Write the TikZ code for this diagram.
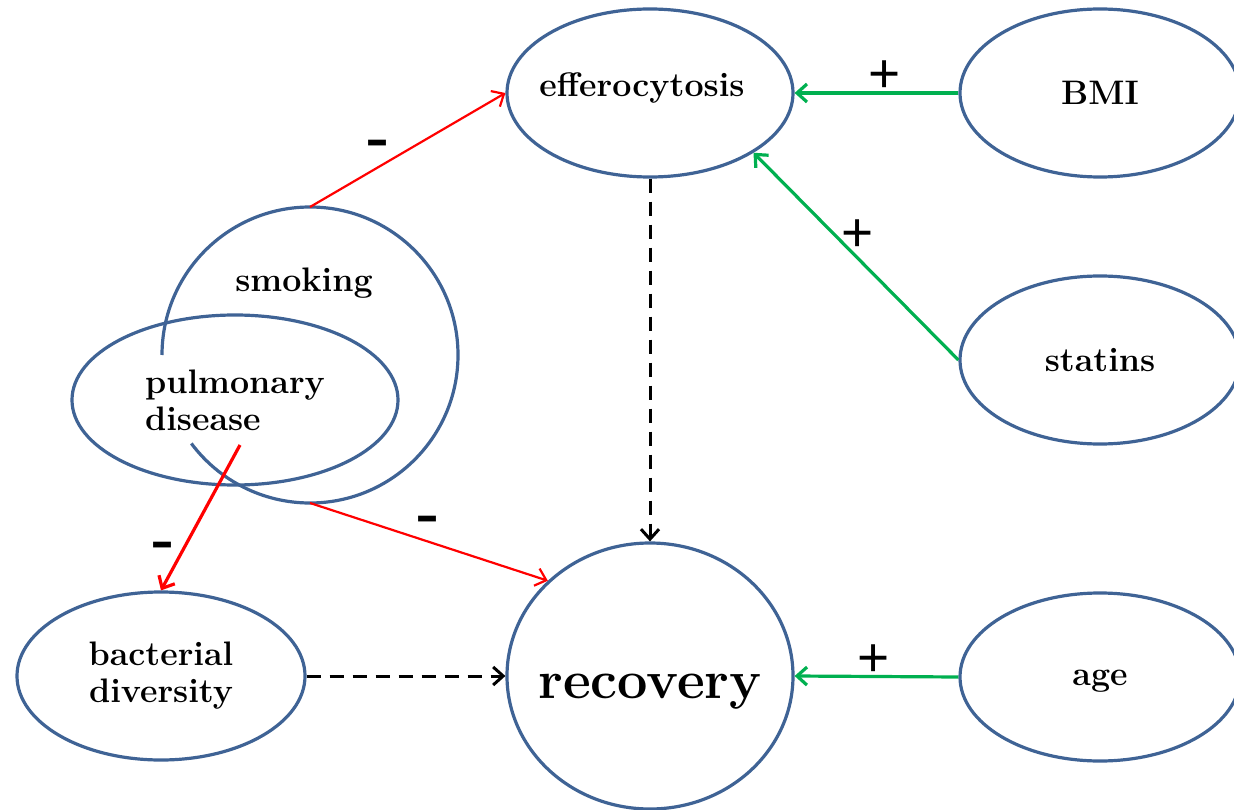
\documentclass[tikz,border=0pt]{standalone}
\usepackage{fontspec}
\newfontfamily\signfont{Liberation Sans}
\usetikzlibrary{shapes.geometric,arrows.meta}
\definecolor{outline}{HTML}{3F6395}
\definecolor{neg}{HTML}{FF0000}
\definecolor{pos}{HTML}{00B050}
% text that does not widen its ellipse; #1 lowers the baseline
\newcommand{\slimtext}[2][0pt]{\makebox[0pt]{\raisebox{-#1}[0pt][0pt]{#2}}}

\begin{document}
\begin{tikzpicture}[x=1pt,y=-1pt,
  blob/.style={ellipse, draw=outline, line width=3.2pt, align=center, inner sep=0pt,
    font=\fontsize{34}{37}\selectfont\bfseries},
  caption/.style={inner sep=0pt, font=\fontsize{34}{37}\selectfont\bfseries},
  barb/.style={-{Straight Barb[length=10pt,width=18pt]}},
  negarrow/.style={draw=neg, line width=2.2pt, barb},
  posarrow/.style={draw=pos, line width=3.2pt, barb},
  linkarrow/.style={draw=black, line width=3pt, dash pattern=on 14pt off 9pt, barb},
  plussign/.style={inner sep=0pt, font=\signfont\fontsize{55}{55}\selectfont},
  minussign/.style={inner sep=0pt, font=\signfont\bfseries\fontsize{36}{36}\selectfont}
]
\clip (0,0) rectangle (1234,810);

% factor nodes
\node[blob, minimum width=286pt, minimum height=168pt] (effero) at (650,93) {\slimtext[4pt]{ef{}ferocytosis\kern16pt}};
\node[blob, minimum width=280pt, minimum height=168pt] (bmi) at (1100,93) {\slimtext[12pt]{BMI}};
\node[blob, minimum width=280pt, minimum height=168pt] (statins) at (1100,360) {\slimtext[11pt]{statins}};
\node[blob, minimum width=280pt, minimum height=168pt] (age) at (1100,677) {\slimtext[8pt]{age}};
\node[blob, minimum width=286pt, minimum height=266pt,
      font=\fontsize{54}{60}\selectfont\bfseries] (recovery) at (650,676) {\slimtext[22pt]{recovery}};
\node[blob, minimum width=288pt, minimum height=168pt] (bact) at (161,676) {bacterial\\diversity};

% smoking: an open circle wrapped round the pulmonary disease ellipse
\node[circle, draw=none, minimum size=296pt, inner sep=0pt, outer sep=0pt] (smoking) at (310,355) {};
\draw[outline, line width=3.2pt] (smoking.west) arc[start angle=180, end angle=503.3, radius=148];
\node[caption] (smokingtext) at (304,283) {smoking};
\node[blob, minimum width=326pt, minimum height=170pt, align=left] (pulm) at (235,400) {pulmonary\\disease};
\coordinate (pdout) at (240,445);

% connectors
\draw[negarrow] (smoking.north) -- (effero.west);
\draw[negarrow] (smoking.south) -- (recovery.137);
\draw[negarrow, line width=3.2pt] (pdout) -- (bact.north);
\draw[linkarrow] (effero.south) -- (recovery.north);
\draw[linkarrow] (bact.east) -- (recovery.west);
\draw[posarrow] (bmi.west) -- (effero.east);
\draw[posarrow] (statins.west) -- (effero.-30.5);
\draw[posarrow] (age.west) -- (recovery.east);

% signs
\node[minussign] (m1) at (378,149) {\scalebox{1}[1.6]{–}};
\node[minussign] (m2) at (428,525) {\scalebox{1}[1.6]{–}};
\node[minussign] (m3) at (163,551) {\scalebox{1}[1.6]{–}};
\node[plussign] (p1) at (885,77) {+};
\node[plussign] (p2) at (858,236) {+};
\node[plussign] (p3) at (874,661) {+};
\end{tikzpicture}
\end{document}
